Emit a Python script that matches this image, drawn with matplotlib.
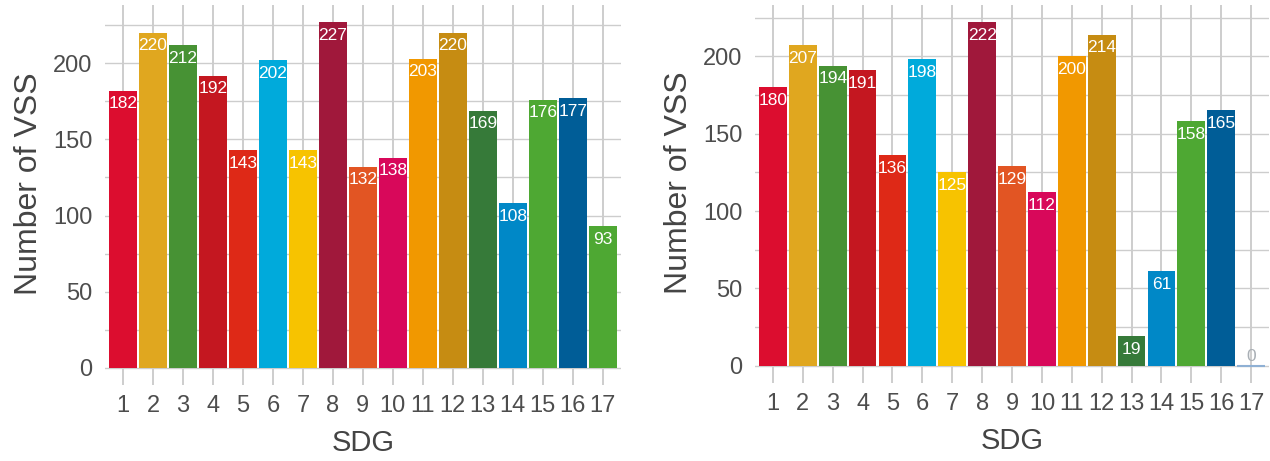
import matplotlib.pyplot as plt
from matplotlib.ticker import MultipleLocator

plt.rcParams['font.family'] = ['Liberation Sans', 'DejaVu Sans']

sdg = list(range(1, 18))
vss_left = [182, 220, 212, 192, 143, 202, 143, 227, 132, 138, 203, 220, 169, 108, 176, 177, 93]
vss_right = [180, 207, 194, 191, 136, 198, 125, 222, 129, 112, 200, 214, 19, 61, 158, 165, 0]

sdg_colors = ['#dc0d2f', '#e0a71f', '#479234', '#c41720', '#de2917', '#00aadb',
              '#f7c300', '#a0183b', '#e25523', '#d8085a', '#f19800', '#c68c12',
              '#367a39', '#0088c7', '#4ea833', '#005d97']
colors_left = sdg_colors + ['#4ea833']
colors_right = sdg_colors + ['#8fb0d4']

grid_col = '#cdcdcd'
text_col = '#4d4d4d'


def draw_panel(ax, values, cols):
    top = max(values)
    ax.set_axisbelow(True)
    ax.bar(sdg, values, width=0.93, color=cols, zorder=2)
    for x, v, c in zip(sdg, values, cols):
        if v > 0:
            ax.annotate(str(v), (x, v), xytext=(0, -4), textcoords='offset points',
                        ha='center', va='top', color='white', fontsize=12.5, zorder=3)
        else:
            # empty bar: thin baseline plus grey label
            ax.hlines(0, x - 0.465, x + 0.465, color=c, lw=1.5, zorder=3)
            ax.annotate(str(v), (x, v), xytext=(0, 1), textcoords='offset points',
                        ha='center', va='bottom', color='#a9afb5', fontsize=12.5, zorder=3)
    ax.set_xlim(0.4, 17.6)
    ax.set_ylim(-0.05 * top, 1.05 * top)
    ax.set_xticks(sdg)
    ax.set_yticks([0, 50, 100, 150, 200])
    ax.yaxis.set_minor_locator(MultipleLocator(25))
    ax.yaxis.grid(True, which='both', color=grid_col, lw=1.0)
    ax.xaxis.grid(True, color=grid_col, lw=1.4)
    ax.tick_params(which='both', length=0, labelsize=17, colors=text_col)
    ax.tick_params(axis='x', pad=7)
    ax.tick_params(axis='y', pad=9)
    for s in ax.spines.values():
        s.set_visible(False)
    ax.set_xlabel('SDG', fontsize=21, color='#444444', labelpad=9)
    ax.set_ylabel('Number of VSS', fontsize=23, color='#444444')
    ax.yaxis.set_label_coords(-0.118, 0.53)


fig = plt.figure(figsize=(12.7, 4.61), dpi=100)
ax1 = fig.add_axes([105 / 1270, 1 - 385 / 461, 515.7 / 1270, 380 / 461])
ax2 = fig.add_axes([755 / 1270, 1 - 383 / 461, 514 / 1270, 378 / 461])

draw_panel(ax1, vss_left, colors_left)
draw_panel(ax2, vss_right, colors_right)

fig.savefig('out.png', dpi=100)
